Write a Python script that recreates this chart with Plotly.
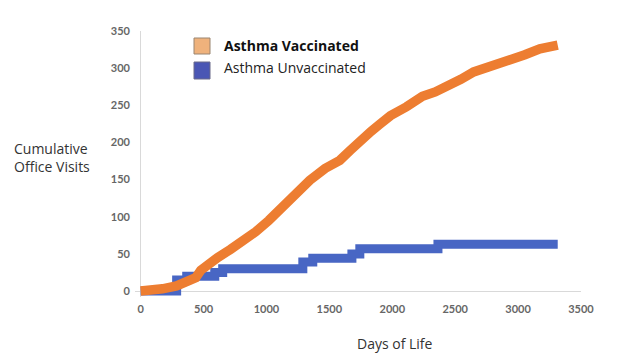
import plotly.graph_objects as go

# Data
vacc_days = [0, 92, 173, 285, 336, 387, 438, 478, 550, 611, 713, 814, 916, 1018,
             1120, 1222, 1344, 1466, 1583, 1670, 1742, 1832, 1904, 1985, 2113,
             2240, 2341, 2433, 2545, 2647, 2749, 2850, 2962, 3054, 3173, 3258, 3315]
vacc_visits = [0, 0, 3, 7, 10, 15, 18, 28, 38, 45, 56, 67, 80, 95,
               113, 130, 149, 165, 176, 190, 203, 215, 225, 236, 248,
               262, 268, 275, 285, 295, 300, 305, 311, 318, 326, 329, 331]

unvacc_days = [0, 286, 366, 589, 652, 1289, 1368, 1679, 1742, 2363, 3315]
unvacc_visits = [0, 15, 20, 25, 30, 39, 44, 50, 57, 63, 63]

x_ticks = [0, 500, 1000, 1500, 2000, 2500, 3000, 3500]
y_ticks = [0, 50, 100, 150, 200, 250, 300, 350]

series_names = ["Asthma Vaccinated", "Asthma Unvaccinated"]

ORANGE = "#ED7D31"
BLUE = "#4866C4"

fig = go.Figure()
fig.add_trace(go.Scatter(x=unvacc_days, y=unvacc_visits, mode="lines",
                         line=dict(color=BLUE, width=9, shape="hv"),
                         name=series_names[1], showlegend=False))
fig.add_trace(go.Scatter(x=vacc_days, y=vacc_visits, mode="lines",
                         line=dict(color=ORANGE, width=9.5),
                         name=series_names[0], showlegend=False))

tickfont = dict(family="Lato", size=11, color="#666666", weight="bold")
TXT = "Open Sans"

fig.update_layout(
    width=621, height=359,
    margin=dict(l=127, r=48, t=23, b=70),
    paper_bgcolor="white", plot_bgcolor="white",
    xaxis=dict(range=[-45, 3500], tickvals=x_ticks, showgrid=False, showline=False,
               zeroline=True, zerolinecolor="#D9D9D9", zerolinewidth=1,
               ticks="", tickfont=tickfont, ticklabelstandoff=4),
    yaxis=dict(range=[-8, 350], tickvals=y_ticks, showgrid=False, showline=False,
               zeroline=True, zerolinecolor="#D9D9D9", zerolinewidth=1,
               ticks="", tickfont=tickfont, ticklabelstandoff=4),
)

# legend swatches (plot area ~446 px wide, 266 px tall)
PW, PH = 446.0, 266.0
def px(x):
    return (x - 135) / PW
def py(y):
    return (297 - y) / PH

fig.add_shape(type="rect", xref="paper", yref="paper", x0=px(194), x1=px(210),
              y0=py(54), y1=py(38), fillcolor="#EFB27C", line=dict(color="#9A8570", width=1))
fig.add_shape(type="rect", xref="paper", yref="paper", x0=px(194), x1=px(210),
              y0=py(79), y1=py(62), fillcolor="#4A56B4", line=dict(color="#6A6A8A", width=1))

fig.add_annotation(xref="paper", yref="paper", x=px(222), y=py(46), xanchor="left",
                   yanchor="middle", showarrow=False, text="<b>" + series_names[0] + "</b>",
                   font=dict(family=TXT, size=14, color="#111111"))
fig.add_annotation(xref="paper", yref="paper", x=px(222), y=py(67), xanchor="left",
                   yanchor="middle", showarrow=False, text=series_names[1],
                   font=dict(family=TXT, size=14, color="#222222"))

# axis titles
fig.add_annotation(xref="paper", yref="paper", x=px(12), y=py(157), xanchor="left",
                   yanchor="middle", showarrow=False, align="left",
                   text="Cumulative<br>Office Visits",
                   font=dict(family=TXT, size=14, color="#333333"))
fig.add_annotation(xref="paper", yref="paper", x=px(395), y=py(343), xanchor="center",
                   yanchor="middle", showarrow=False, text="Days of Life",
                   font=dict(family=TXT, size=14, color="#333333"))

fig.write_html("out.html")
